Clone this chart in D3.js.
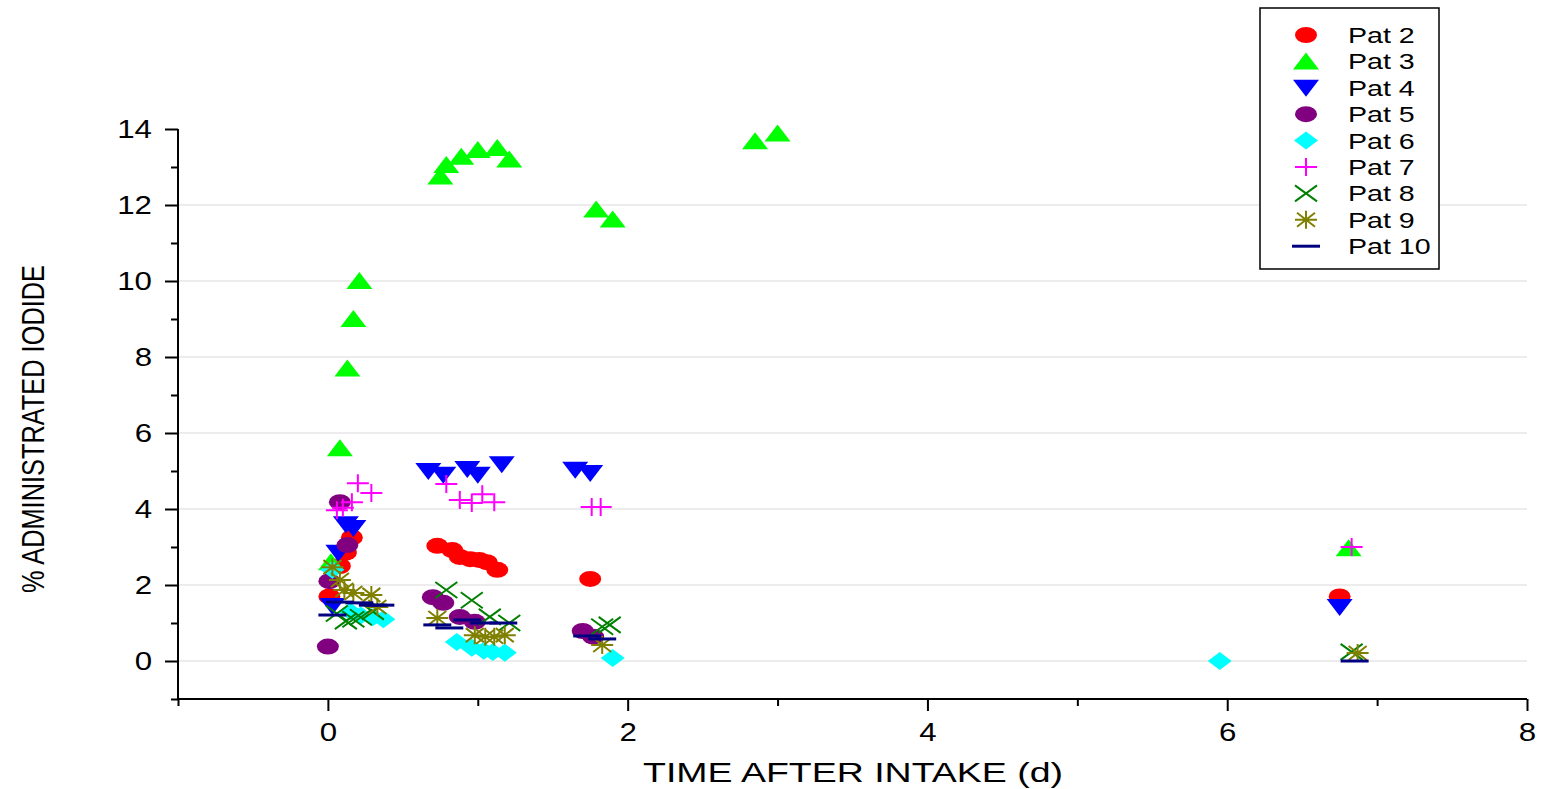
<!DOCTYPE html>
<html>
<head>
<meta charset="utf-8">
<script src="https://cdn.jsdelivr.net/npm/d3@7"></script>
<style>
  body { margin: 0; background: #fff; }
  text { font-family: "Liberation Sans", Arial, sans-serif; }
</style>
</head>
<body>
<div id="chart"></div>
<script>
// chart size
var width = 1549;
var height = 789;

// data, one array per patient: [time (d), % administrated iodide]
var pat2 = [[0.01, 1.7], [0.08, 2.5], [0.12, 2.85], [0.16, 3.25], [0.73, 3.03], [0.83, 2.92], [0.88, 2.74], [0.95, 2.68], [1.01, 2.66], [1.06, 2.6], [1.13, 2.4], [1.75, 2.16], [6.75, 1.7]];
var pat3 = [[0.02, 2.6], [0.08, 5.6], [0.13, 7.7], [0.17, 9.0], [0.21, 10.0], [0.75, 12.75], [0.79, 13.05], [0.89, 13.27], [1.0, 13.45], [1.13, 13.5], [1.21, 13.2], [1.79, 11.88], [1.9, 11.62], [2.85, 13.68], [3.0, 13.88], [6.81, 2.97]];
var pat4 = [[0.03, 1.45], [0.07, 2.85], [0.12, 3.6], [0.17, 3.5], [0.67, 5.0], [0.77, 4.9], [0.93, 5.05], [1.0, 4.9], [1.16, 5.18], [1.65, 5.03], [1.75, 4.95], [6.75, 1.42]];
var pat5 = [[0.0, 0.38], [0.01, 2.1], [0.08, 4.18], [0.13, 3.05], [0.7, 1.68], [0.77, 1.53], [0.88, 1.16], [0.98, 1.03], [1.7, 0.79], [1.77, 0.64]];
var pat6 = [[0.03, 2.4], [0.15, 1.3], [0.22, 1.2], [0.3, 1.15], [0.37, 1.1], [0.86, 0.5], [0.96, 0.35], [1.04, 0.27], [1.1, 0.24], [1.18, 0.22], [1.9, 0.08], [5.95, 0.0]];
var pat7 = [[0.06, 3.97], [0.1, 4.03], [0.16, 4.18], [0.2, 4.68], [0.29, 4.42], [0.79, 4.66], [0.88, 4.24], [0.96, 4.16], [1.03, 4.39], [1.11, 4.18], [1.76, 4.05], [1.82, 4.05], [6.83, 3.0]];
var pat8 = [[0.06, 1.25], [0.12, 1.05], [0.17, 1.1], [0.22, 1.15], [0.3, 1.3], [0.79, 1.87], [0.96, 1.6], [1.08, 1.16], [1.21, 1.0], [1.83, 0.9], [1.88, 0.95], [6.83, 0.24]];
var pat9 = [[0.03, 2.47], [0.08, 2.13], [0.11, 1.87], [0.17, 1.79], [0.29, 1.74], [0.33, 1.42], [0.73, 1.13], [0.98, 0.68], [1.05, 0.64], [1.11, 0.64], [1.18, 0.68], [1.83, 0.42], [6.87, 0.21]];
var pat10 = [[0.03, 1.21], [0.08, 1.55], [0.21, 1.53], [0.3, 1.47], [0.35, 1.47], [0.73, 0.95], [0.81, 0.87], [0.93, 1.08], [1.04, 1.0], [1.17, 1.0], [1.73, 0.66], [1.83, 0.58], [6.85, 0.0]];

var names = ["Pat 2", "Pat 3", "Pat 4", "Pat 5", "Pat 6", "Pat 7", "Pat 8", "Pat 9", "Pat 10"];
var seriesData = [pat2, pat3, pat4, pat5, pat6, pat7, pat8, pat9, pat10];
var colors = ["#ff0000", "#00ff00", "#0000ff", "#800080", "#00ffff", "#ff00ff", "#008000", "#808000", "#000080"];
var shapes = ["circle", "triUp", "triDown", "circle", "diamond", "plus", "cross", "star", "dash"];

var xTicks = [0, 2, 4, 6, 8];
var yTicks = [0, 2, 4, 6, 8, 10, 12, 14];

// plot area
var pLeft = 178, pRight = 1527, pTop = 129, pBottom = 699;

var svg = d3.select("#chart").append("svg")
  .attr("width", width)
  .attr("height", height);

var xScale = d3.scaleLinear().domain([-1, 8]).range([pLeft, pRight]);
var yScale = d3.scaleLinear().domain([-1, 14]).range([pBottom, pTop]);

// stretch text wider, like the original export
function stretch(sel, k) {
  sel.each(function() {
    var len = this.getComputedTextLength();
    d3.select(this).attr("textLength", len * k).attr("lengthAdjust", "spacingAndGlyphs");
  });
}

// grid
svg.append("g")
  .selectAll("line")
  .data(yTicks.filter(function(d) { return d < 14; }))
  .enter().append("line")
  .attr("x1", pLeft).attr("x2", pRight)
  .attr("y1", function(d) { return yScale(d); })
  .attr("y2", function(d) { return yScale(d); })
  .attr("stroke", "#d9d9d9")
  .attr("stroke-width", 1.2);

// axes
var xAxis = d3.axisBottom(xScale).tickValues(xTicks).tickSize(12).tickPadding(12).tickFormat(d3.format("d"));
var xMinor = d3.axisBottom(xScale).tickValues([-1, 1, 3, 5, 7]).tickSize(7).tickFormat("");
var yAxis = d3.axisLeft(yScale).tickValues(yTicks).tickSize(13).tickPadding(13).tickFormat(d3.format("d"));
var yMinor = d3.axisLeft(yScale).tickValues([-1, 1, 3, 5, 7, 9, 11, 13]).tickSize(7).tickFormat("");

function styleAxis(g) {
  g.select(".domain").remove();
  g.selectAll("line").attr("stroke", "#000").attr("stroke-width", 2);
  g.selectAll("text").attr("font-size", "25px").attr("fill", "#000").call(stretch, 1.25);
}

svg.append("g").attr("transform", "translate(0," + pBottom + ")").call(xAxis).call(styleAxis);
svg.append("g").attr("transform", "translate(0," + pBottom + ")").call(xMinor).call(styleAxis);
svg.append("g").attr("transform", "translate(" + pLeft + ",0)").call(yAxis).call(styleAxis);
svg.append("g").attr("transform", "translate(" + pLeft + ",0)").call(yMinor).call(styleAxis);

// axis lines
svg.append("line").attr("x1", pLeft).attr("x2", pRight).attr("y1", pBottom).attr("y2", pBottom)
  .attr("stroke", "#000").attr("stroke-width", 2);
svg.append("line").attr("x1", pLeft).attr("x2", pLeft).attr("y1", pTop).attr("y2", pBottom + 1)
  .attr("stroke", "#000").attr("stroke-width", 2);

// axis titles
svg.append("text")
  .attr("x", 853)
  .attr("y", 782)
  .attr("text-anchor", "middle")
  .attr("font-size", "28px")
  .attr("textLength", 420)
  .attr("lengthAdjust", "spacingAndGlyphs")
  .text("TIME AFTER INTAKE (d)");

svg.append("text")
  .attr("transform", "translate(44,429) rotate(-90)")
  .attr("text-anchor", "middle")
  .attr("font-size", "31px")
  .attr("textLength", 328)
  .attr("lengthAdjust", "spacingAndGlyphs")
  .text("% ADMINISTRATED IODIDE");

// marker shapes, centred on 0,0
function shapePath(s) {
  switch (s) {
    case "circle": return "M-11,0A11,8 0 1,0 11,0A11,8 0 1,0 -11,0Z";
    case "triUp": return "M0,-9L13,8L-13,8Z";
    case "triDown": return "M0,9L13,-8L-13,-8Z";
    case "diamond": return "M0,-9L12,0L0,9L-12,0Z";
    case "plus": return "M-11,0H11M0,-9V9";
    case "cross": return "M-11,-8L11,8M-11,8L11,-8";
    case "star": return "M-11,0H11M0,-9V9M-9,-7L9,7M-9,7L9,-7";
    case "dash": return "M-14,0H14";
  }
}
function isLine(s) { return s === "plus" || s === "cross" || s === "star" || s === "dash"; }

seriesData.forEach(function(data, i) {
  var s = shapes[i];
  svg.append("g")
    .selectAll("path")
    .data(data)
    .enter().append("path")
    .attr("d", shapePath(s))
    .attr("transform", function(d) { return "translate(" + xScale(d[0]) + "," + yScale(d[1]) + ")"; })
    .attr("fill", isLine(s) ? "none" : colors[i])
    .attr("stroke", isLine(s) ? colors[i] : "none")
    .attr("stroke-width", s === "dash" ? 3 : 2);
});

// legend
var legend = svg.append("g");
legend.append("rect")
  .attr("x", 1260).attr("y", 8).attr("width", 179).attr("height", 261)
  .attr("fill", "#fff").attr("stroke", "#000").attr("stroke-width", 1.5);

names.forEach(function(n, i) {
  var yy = 35 + i * 26.4;
  var s = shapes[i];
  legend.append("path")
    .attr("d", shapePath(s))
    .attr("transform", "translate(1306," + yy + ")")
    .attr("fill", isLine(s) ? "none" : colors[i])
    .attr("stroke", isLine(s) ? colors[i] : "none")
    .attr("stroke-width", s === "dash" ? 3 : 2);
  legend.append("text")
    .attr("x", 1348)
    .attr("y", yy + 8)
    .attr("font-size", "22px")
    .text(n)
    .call(stretch, 1.3);
});
</script>
</body>
</html>
